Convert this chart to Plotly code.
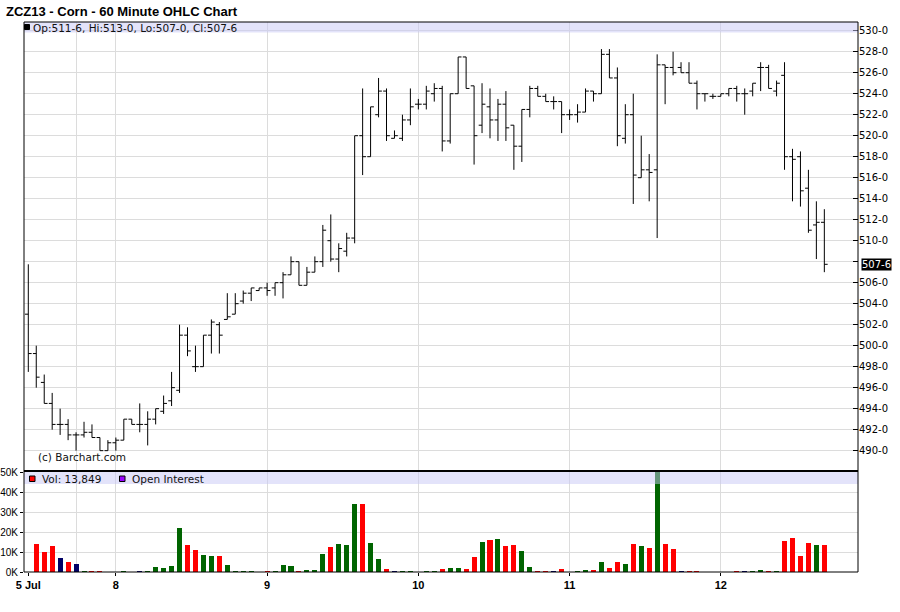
import plotly.graph_objects as go

# ---------------- data (60-minute bars, index 0..100) ----------------
bar_index = list(range(101))

opens = [503.0, 499.25, 496.5, 494.5, 492.5, 492.5, 491.5, 491.5, 491.75, 491.25,
         490.0, 490.75, 491.0, 493.0, 492.5, 492.5, 493.0, 493.75, 494.75, 495.75,
         501.0, 498.0, 498.0, 501.0, 502.0, 502.5, 503.0, 504.25, 505.0, 505.25,
         505.5, 505.5, 506.0, 506.75, 508.0, 505.75, 507.0, 508.0, 510.0, 508.25,
         509.0, 510.25, 520.0, 518.0, 522.0, 524.25, 519.75, 519.75, 521.5, 523.0,
         523.0, 524.0, 524.5, 519.5, 524.0, 527.5, 524.75, 521.0, 522.75, 521.5,
         523.0, 521.0, 519.0, 522.5, 524.5, 523.75, 523.25, 523.25, 522.0, 522.0,
         522.25, 524.25, 524.0, 527.75, 525.5, 519.75, 522.0, 516.0, 516.75, 516.75,
         526.75, 526.5, 526.5, 526.0, 525.0, 524.0, 523.75, 523.75, 524.0, 524.5,
         524.0, 524.25, 526.5, 526.5, 524.25, 525.75, 518.0, 518.0, 515.0, 511.5,
         511.75]
highs = [507.75, 500.0, 497.25, 495.5, 494.0, 493.0, 491.75, 492.75, 492.5, 491.25,
         491.0, 491.25, 493.0, 493.0, 494.5, 493.75, 494.0, 495.25, 497.5, 502.0,
         501.75, 500.0, 501.0, 502.5, 502.25, 505.0, 505.0, 505.25, 505.5, 505.5,
         506.0, 506.0, 507.0, 508.5, 508.0, 507.5, 508.5, 511.5, 512.5, 509.75,
         510.75, 520.0, 524.5, 522.75, 525.5, 524.5, 520.5, 522.0, 524.5, 523.5,
         524.75, 525.0, 524.75, 524.0, 527.5, 527.5, 524.75, 525.0, 524.5, 523.5,
         524.25, 521.0, 522.5, 524.75, 524.75, 524.0, 523.75, 523.25, 522.5, 523.0,
         524.5, 524.25, 528.25, 528.25, 526.5, 523.0, 524.0, 520.0, 518.25, 527.75,
         526.75, 528.0, 527.0, 527.0, 525.25, 524.0, 524.0, 524.0, 524.5, 524.75,
         524.5, 525.0, 527.0, 526.75, 525.25, 527.0, 518.75, 518.5, 516.75, 513.75,
         513.0]
lows = [497.5, 496.0, 494.5, 492.0, 491.5, 491.0, 490.0, 491.25, 491.25, 490.0,
        490.0, 490.0, 491.0, 492.5, 491.75, 490.5, 492.5, 493.5, 494.25, 495.5,
        499.0, 497.5, 498.0, 499.25, 499.25, 502.5, 503.0, 504.0, 504.25, 505.25,
        504.75, 504.75, 504.5, 506.75, 505.75, 505.75, 507.0, 507.5, 508.0, 507.0,
        508.5, 509.75, 516.25, 518.0, 521.75, 519.5, 519.75, 519.5, 521.0, 522.5,
        522.5, 523.25, 518.5, 519.25, 524.0, 524.5, 517.25, 520.25, 519.75, 519.5,
        519.5, 516.75, 517.5, 521.75, 523.75, 523.25, 522.5, 520.25, 521.5, 521.25,
        522.25, 523.25, 524.0, 525.5, 519.0, 519.25, 513.5, 516.0, 513.75, 510.25,
        523.0, 525.75, 526.0, 525.0, 522.5, 523.25, 523.5, 523.75, 523.75, 523.25,
        522.0, 523.75, 524.25, 524.5, 523.75, 516.75, 513.75, 513.25, 510.75, 508.25,
        507.0]
closes = [499.25, 497.0, 494.5, 492.5, 492.5, 491.5, 491.5, 491.75, 491.25, 490.0,
          490.75, 491.0, 493.0, 492.5, 492.5, 493.0, 494.0, 494.5, 496.0, 501.0,
          499.5, 498.0, 501.0, 502.25, 501.0, 502.75, 504.0, 505.0, 505.5, 505.5,
          505.25, 506.0, 506.75, 508.0, 505.75, 507.0, 508.0, 511.0, 508.25, 509.25,
          510.25, 520.0, 518.0, 522.75, 524.25, 520.0, 520.0, 521.5, 522.75, 523.0,
          524.25, 524.5, 519.5, 524.0, 527.5, 524.5, 520.0, 523.0, 521.5, 523.0,
          520.75, 519.0, 522.5, 524.5, 523.75, 523.25, 523.25, 522.0, 522.0, 522.25,
          524.25, 524.0, 527.75, 525.5, 520.0, 522.0, 516.25, 516.75, 516.5, 526.75,
          526.5, 526.0, 526.0, 525.0, 524.0, 524.0, 523.75, 524.0, 524.5, 524.0,
          524.0, 525.0, 526.5, 524.5, 525.0, 518.0, 517.75, 514.75, 511.0, 511.75,
          507.75]
volume_k = [0, 14.2, 10.2, 13.2, 7.1, 5.1, 4.1, 1.0, 0.5, 0.5,
            0, 0, 0.5, 0, 1.0, 1.0, 2.6, 2.1, 3.1, 22.2,
            13.6, 11.1, 8.6, 8.1, 8.1, 3.6, 1.0, 0.6, 0.6, 0,
            1.0, 0.6, 3.6, 3.1, 1.0, 1.5, 1.5, 9.2, 12.7, 14.2,
            13.7, 34.2, 34.2, 14.7, 6.6, 2.0, 0.5, 0.5, 0.5, 0,
            0.5, 1.0, 2.0, 2.5, 2.5, 2.0, 8.0, 15.5, 16.5, 17.0,
            13.5, 14.0, 11.0, 3.0, 0.5, 0.5, 0.5, 2.0, 0, 0.5,
            1.5, 1.5, 5.5, 2.5, 5.5, 4.5, 14.5, 13.5, 12.5, 58.0,
            14.5, 12.0, 1.0, 0.5, 0.5, 0, 0, 0, 0, 0.5,
            1.0, 0.5, 1.5, 1.0, 1.0, 16.0, 17.5, 8.5, 15.0, 14.0,
            13.849]

day_tick_pos = [0, 11, 30, 49, 68, 87]
day_tick_text = ["5 Jul", "8", "9", "10", "11", "12"]
day_grid_pos = [6, 11, 30, 49, 68, 87]

price_ticks = list(range(490, 532, 2))
vol_ticks_k = [0, 10, 20, 30, 40, 50]

# ---------------- helpers ----------------
def fmt_price(p):
    whole = int(p)
    eighths = int(round((p - whole) * 8))
    return f"{whole}-{eighths}"

L, R, T, B = 24, 858, 22, 572
W, H = R - L, B - T

def px_x(px):
    return (px - L) / W

def px_y(py):
    return (B - py) / H

GREEN, RED, NAVY = "#006400", "#ff0000", "#000066"
vol_colors = []
for i, c in enumerate(closes):
    if i == 0 or c == closes[i - 1]:
        vol_colors.append(NAVY)
    elif c > closes[i - 1]:
        vol_colors.append(GREEN)
    else:
        vol_colors.append(RED)

FONT = "DejaVu Sans"

fig = go.Figure()
fig.add_trace(go.Ohlc(
    x=bar_index, open=opens, high=highs, low=lows, close=closes,
    increasing=dict(line=dict(color="black", width=1)),
    decreasing=dict(line=dict(color="black", width=1)),
    tickwidth=0.42, xaxis="x", yaxis="y", hoverinfo="skip", showlegend=False,
))
fig.add_trace(go.Bar(
    x=bar_index, y=[v * 1000 for v in volume_k], marker=dict(color=vol_colors, line=dict(width=0)),
    width=0.63, xaxis="x", yaxis="y2", hoverinfo="skip", showlegend=False,
))

price_tick_text = [("" if v == 508 else f"{v}-0") for v in price_ticks]

fig.update_layout(
    width=900, height=612,
    margin=dict(l=L, r=900 - R, t=T, b=612 - B, autoexpand=False),
    paper_bgcolor="white", plot_bgcolor="white",
    title=dict(text="ZCZ13 - Corn - 60 Minute OHLC Chart", xref="container", yref="container",
               x=6 / 900, xanchor="left", y=1 - 11 / 612, yanchor="middle", automargin=False,
               font=dict(family="Liberation Sans", size=13, color="black", weight="bold")),
    xaxis=dict(
        range=[-0.54, 104.23], anchor="y2", automargin=False,
        tickmode="array", tickvals=day_tick_pos, ticktext=day_tick_text,
        showgrid=False, zeroline=False, showline=False,
        ticks="outside", ticklen=3, tickcolor="black",
        tickfont=dict(family="Liberation Sans", size=11, color="black", weight="bold"),
        minor=dict(tickmode="array", tickvals=day_grid_pos, showgrid=True,
                   gridcolor="#dcdcdc", gridwidth=1, ticks=""),
        rangeslider=dict(visible=False),
    ),
    yaxis=dict(
        domain=[px_y(470.5), 1], range=[488.11, 530.83], side="right", automargin=False,
        tickmode="array", tickvals=price_ticks, ticktext=price_tick_text,
        ticks="inside", ticklen=5, tickcolor="black",
        showgrid=True, gridcolor="#dcdcdc", gridwidth=1, zeroline=False, showline=False,
        tickfont=dict(family=FONT, size=10, color="black"),
    ),
    yaxis2=dict(
        domain=[0, px_y(471.5)], range=[0, 50400], side="left", anchor="x", automargin=False,
        tickmode="array", tickvals=[v * 1000 for v in vol_ticks_k],
        ticktext=[f"{v}K" for v in vol_ticks_k],
        ticks="outside", ticklen=3, tickcolor="black",
        showgrid=True, gridcolor="#dcdcdc", gridwidth=1, zeroline=False, showline=False,
        tickfont=dict(family="Liberation Sans", size=10, color="black"),
    ),
    bargap=0,
)

band = "rgba(200,200,245,0.5)"
shapes = [
    # price legend band
    dict(type="rect", xref="paper", yref="paper", x0=0, x1=1, y0=px_y(32.5), y1=1,
         fillcolor=band, line=dict(width=0), layer="above"),
    # volume legend band
    dict(type="rect", xref="paper", yref="paper", x0=0, x1=1, y0=px_y(484), y1=px_y(472),
         fillcolor=band, line=dict(width=0), layer="above"),
    # outer frame
    dict(type="rect", xref="paper", yref="paper", x0=0, x1=1, y0=0, y1=1,
         line=dict(color="black", width=1), layer="above"),
    # panel divider
    dict(type="line", xref="paper", yref="paper", x0=0, x1=1, y0=px_y(471), y1=px_y(471),
         line=dict(color="black", width=2), layer="above"),
    # legend squares
    dict(type="rect", xref="paper", yref="paper", x0=px_x(24.5), x1=px_x(29.5),
         y0=px_y(29.5), y1=px_y(24.5), fillcolor="black", line=dict(color="black", width=1), layer="above"),
    dict(type="rect", xref="paper", yref="paper", x0=px_x(29.5), x1=px_x(35), y0=px_y(481.5),
         y1=px_y(476), fillcolor=RED, line=dict(color="black", width=1), layer="above"),
    dict(type="rect", xref="paper", yref="paper", x0=px_x(119.5), x1=px_x(125), y0=px_y(481.5),
         y1=px_y(476), fillcolor="#9900ff", line=dict(color="black", width=1), layer="above"),
]
fig.update_layout(shapes=shapes)

last = len(closes) - 1
ohlc_text = (f"Op:{fmt_price(opens[last])}, Hi:{fmt_price(highs[last])}, "
             f"Lo:{fmt_price(lows[last])}, Cl:{fmt_price(closes[last])}")
vol_text = f"Vol: {int(round(volume_k[last] * 1000)):,}"

annos = [
    dict(text=ohlc_text, xref="paper", yref="paper", x=px_x(31), y=px_y(27.5),
         xanchor="left", yanchor="middle", showarrow=False,
         font=dict(family=FONT, size=10.5, color="#111")),
    dict(text="(c) Barchart.com", xref="paper", yref="paper", x=px_x(35.5), y=px_y(457),
         xanchor="left", yanchor="middle", showarrow=False,
         font=dict(family=FONT, size=10.5, color="#111")),
    dict(text=vol_text, xref="paper", yref="paper", x=px_x(40), y=px_y(478.5),
         xanchor="left", yanchor="middle", showarrow=False,
         font=dict(family=FONT, size=10.5, color="#111")),
    dict(text="Open Interest", xref="paper", yref="paper", x=px_x(130), y=px_y(478.5),
         xanchor="left", yanchor="middle", showarrow=False,
         font=dict(family=FONT, size=10.5, color="#111")),
    dict(text=fmt_price(closes[last]), xref="paper", yref="y", x=1, y=closes[last],
         xanchor="left", yanchor="middle", xshift=3, showarrow=False,
         bgcolor="black", borderpad=0,
         font=dict(family=FONT, size=10, color="white")),
]
fig.update_layout(annotations=annos)

fig.write_html("out.html", config={"displayModeBar": False},
               post_script="document.body.style.margin='0';document.body.style.padding='0';")
